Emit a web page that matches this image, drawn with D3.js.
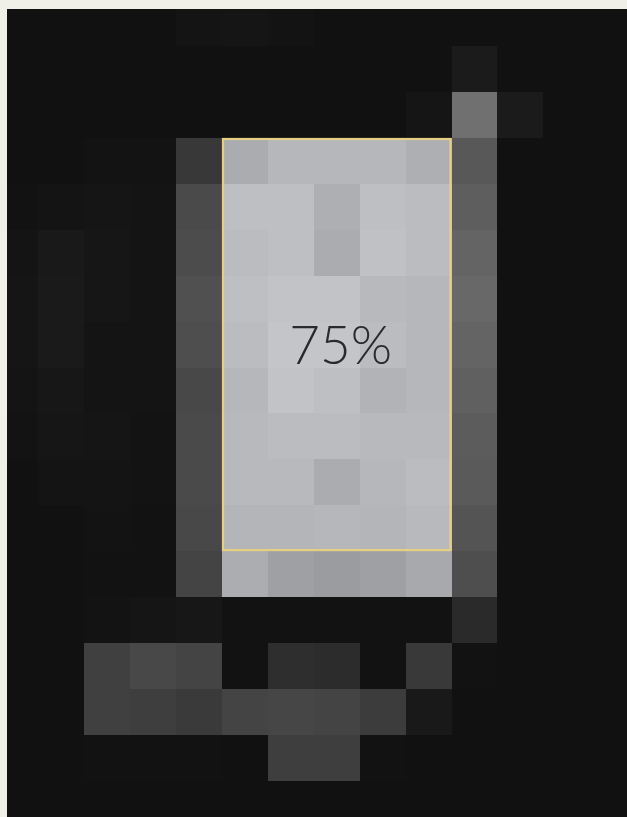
<!DOCTYPE html>
<html>
<head>
<meta charset="utf-8">
<script src="https://cdn.jsdelivr.net/npm/d3@7/dist/d3.min.js"></script>
<style>
  html, body { margin: 0; padding: 0; background: #f1f0ea; }
  svg { display: block; }
</style>
</head>
<body>
<svg id="chart" width="627" height="817"></svg>
<script>
// Column and row categories of the pixel grid
const cols = [0,1,2,3,4,5,6,7,8,9,10,11,12,13];
const rows = [0,1,2,3,4,5,6,7,8,9,10,11,12,13,14,15,16,17];

// Cell brightness values (0 = black, 255 = white), one array per row
const row0  = [17,17,17,17,20,21,19,17,17,17,17,17,17,17];
const row1  = [17,17,17,17,17,17,17,17,17,17,27,17,17,17];
const row2  = [17,17,17,17,17,17,17,17,17,21,112,27,17,17];
const row3  = [17,17,19,19,56,170,181,181,181,173,88,17,17,17];
const row4  = [18,20,21,20,74,189,189,173,189,186,94,17,17,17];
const row5  = [20,25,22,20,76,186,189,170,191,186,100,17,17,17];
const row6  = [21,26,22,20,80,189,193,193,183,181,104,17,17,17];
const row7  = [21,26,20,20,78,186,195,195,186,181,100,17,17,17];
const row8  = [20,23,20,20,72,181,193,189,177,181,96,17,17,17];
const row9  = [19,22,21,19,74,183,186,186,183,183,92,17,17,17];
const row10 = [17,20,20,19,74,183,183,170,181,186,90,17,17,17];
const row11 = [17,17,19,18,72,179,179,181,179,183,84,17,17,17];
const row12 = [17,17,18,18,68,171,158,154,158,167,78,17,17,17];
const row13 = [17,17,19,21,23,18,18,18,18,18,42,17,17,17];
const row14 = [17,17,64,72,68,18,46,44,18,57,18,17,17,17];
const row15 = [17,17,64,62,58,68,70,68,60,25,17,17,17,17];
const row16 = [17,17,18,18,18,17,62,62,18,17,17,17,17,17];
const row17 = [17,17,17,17,17,17,17,17,17,17,17,17,17,17];
const grid = [row0,row1,row2,row3,row4,row5,row6,row7,row8,row9,row10,row11,row12,row13,row14,row15,row16,row17];

// Highlighted block and its label
const highlightCols = [5,9];
const highlightRows = [3,11];
const highlightLabel = "75%";

const svg = d3.select("#chart");
const cell = 45.9;
const x = d3.scaleBand().domain(cols).range([-7.5, -7.5 + cell * cols.length]).padding(0);
const y = d3.scaleBand().domain(rows).range([0.3, 0.3 + cell * rows.length]).padding(0);
const gray = d3.scaleLinear().domain([0, 255]).range([0, 255]);
const fill = v => { const g = Math.round(gray(v)); return d3.rgb(g, g + (g > 120 ? 2 : 0), Math.min(255, g + (g > 120 ? 6 : 1))).toString(); };

// paper background
svg.append("rect").attr("width", 627).attr("height", 817).attr("fill", "#f0efe8");

svg.append("clipPath").attr("id", "frame")
  .append("rect").attr("x", 7).attr("y", 9).attr("width", 620).attr("height", 808);

const g = svg.append("g").attr("clip-path", "url(#frame)");
g.append("rect").attr("x", 7).attr("y", 9).attr("width", 620).attr("height", 808).attr("fill", "#111111");

const cells = [];
grid.forEach((r, ri) => r.forEach((v, ci) => cells.push({ r: rows[ri], c: cols[ci], v })));

g.selectAll("rect.cell").data(cells).join("rect")
  .attr("class", "cell")
  .attr("x", d => x(d.c))
  .attr("y", d => y(d.r))
  .attr("width", x.bandwidth() + 0.6)
  .attr("height", y.bandwidth() + 0.6)
  .attr("fill", d => fill(d.v))
  .attr("shape-rendering", "crispEdges");

// highlight outline
const hx0 = x(highlightCols[0]), hx1 = x(highlightCols[1]) + x.bandwidth();
const hy0 = y(highlightRows[0]), hy1 = y(highlightRows[1]) + y.bandwidth();
g.append("rect")
  .attr("x", hx0 + 1).attr("y", hy0 + 1)
  .attr("width", hx1 - hx0 - 2).attr("height", hy1 - hy0 - 2)
  .attr("fill", "none").attr("stroke", "#e6cf82").attr("stroke-width", 2.2);

g.append("text")
  .attr("x", (hx0 + hx1) / 2 + 4)
  .attr("y", (hy0 + hy1) / 2 + 6)
  .attr("text-anchor", "middle")
  .attr("dominant-baseline", "middle")
  .attr("font-family", "Lato, 'Open Sans', sans-serif")
  .attr("font-weight", 300)
  .attr("font-size", 53)
  .attr("fill", "#2a2a2c")
  .text(highlightLabel);
</script>
</body>
</html>
